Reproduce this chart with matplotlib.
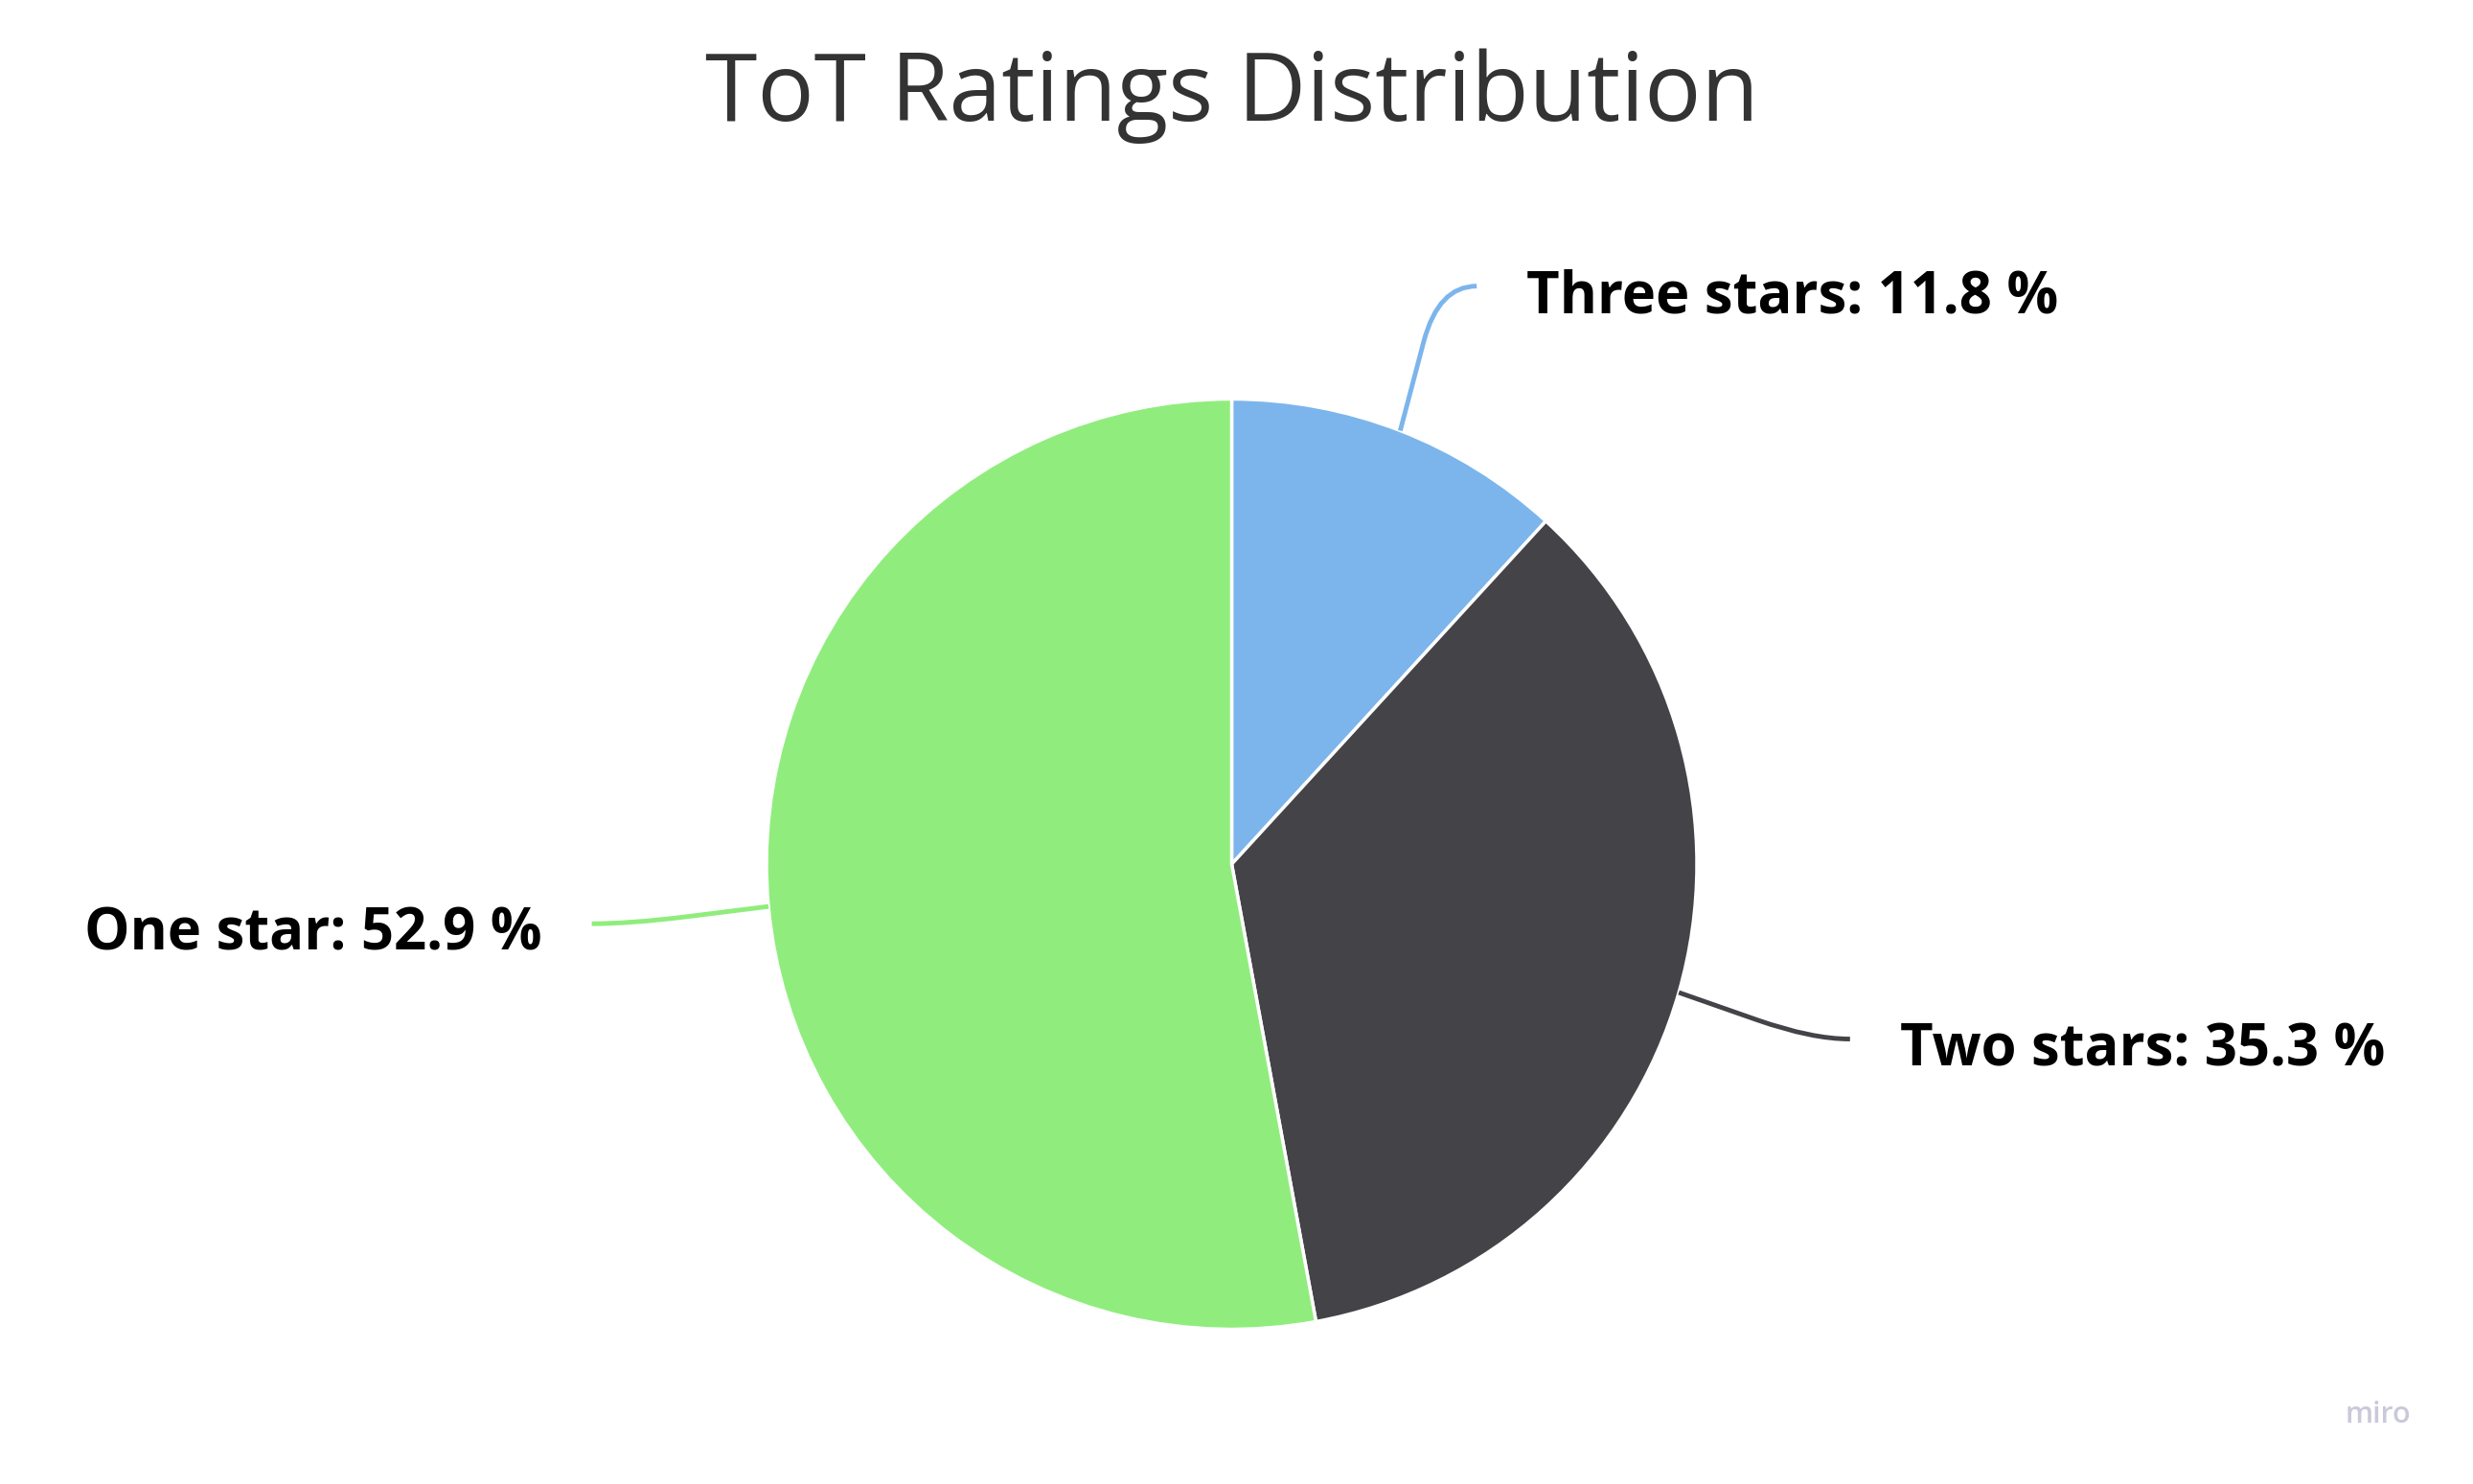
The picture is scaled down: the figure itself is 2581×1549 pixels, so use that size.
import matplotlib.pyplot as plt
import numpy as np
from matplotlib.path import Path
from matplotlib.patches import PathPatch

# data
categories = ["Three stars", "Two stars", "One star"]
shares = [11.8, 35.3, 52.9]
colors = ["#7cb5ec", "#434348", "#90ed7d"]

W, H = 2581, 1549
plt.rcParams['font.family'] = ['Open Sans', 'DejaVu Sans']

fig = plt.figure(figsize=(W / 100, H / 100), dpi=100)
ax = fig.add_axes([0, 0, 1, 1])

cx, cy, r = 1285.5, H - 902, 485.5
wedges, _ = ax.pie(shares, colors=colors, startangle=90, counterclock=False,
                   center=(cx, cy), radius=r,
                   wedgeprops=dict(edgecolor='white', linewidth=2.5))
ax.set_xlim(0, W)
ax.set_ylim(0, H)
ax.set_aspect('equal')
ax.axis('off')

# labels with curved connectors
R = r * 1.34
for w, name, val, col in zip(wedges, categories, shares, colors):
    mid = np.deg2rad((w.theta1 + w.theta2) / 2)
    ux, uy = np.cos(mid), np.sin(mid)
    side = 1 if ux >= 0 else -1
    a = np.array([cx + r * ux, cy + r * uy])
    b = np.array([cx + R * ux + side * 20, cy + R * uy - 3])
    c = b - np.array([side * 40, 0])
    d = c + (a - c) / np.linalg.norm(a - c) * 60
    path = Path([a, d, c, b], [Path.MOVETO, Path.LINETO, Path.CURVE3, Path.CURVE3])
    ax.add_patch(PathPatch(path, fill=False, edgecolor=col, linewidth=3.5))
    ax.text(b[0] + side * 52, b[1] - 12, f"{name}: {val} %",
            ha='left' if side > 0 else 'right', va='center',
            fontsize=43, fontweight='bold', color='black')

fig.text(1286 / W, 1 - 100 / H, "ToT Ratings Distribution", ha='center', va='center',
         fontsize=71, color='#333333')
fig.text(2482 / W, 1 - 1477 / H, "miro", ha='center', va='center',
         fontsize=22, fontweight='semibold', color='#c9c9d9')

fig.savefig("out.png", dpi=100)
